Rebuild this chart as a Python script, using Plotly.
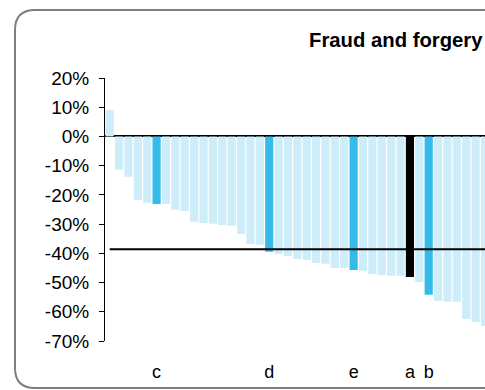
import plotly.graph_objects as go

# Change per unit (%), sorted from highest to lowest
values = [9.0, -11.4, -13.8, -21.7, -22.7, -23.1, -23.1, -25.1, -25.5, -29.2,
          -29.6, -29.9, -30.3, -30.6, -33.4, -36.8, -37.1, -39.5, -40.2, -40.9,
          -41.9, -42.3, -43.3, -43.6, -45.0, -45.0, -45.7, -46.0, -47.1, -47.4,
          -47.7, -47.7, -48.1, -49.8, -54.2, -56.3, -56.6, -56.6, -62.5, -63.5,
          -64.9]
# Named units (all others unlabelled)
labels = ["", "", "", "", "", "c", "", "", "", "",
          "", "", "", "", "", "", "", "d", "", "",
          "", "", "", "", "", "", "e", "", "", "",
          "", "", "a", "", "b", "", "", "", "", "",
          ""]
average = -38.6
y_ticks = [20, 10, 0, -10, -20, -30, -40, -50, -60, -70]
title = "Fraud and forgery"

FONT = "Liberation Sans, Arial, sans-serif"
LIGHT = "#CCEDF9"
BLUE = "#35BBE9"
DARK = "#000000"

x = list(range(len(values)))
colors = []
for lab in labels:
    if lab == "a":
        colors.append(DARK)
    elif lab:
        colors.append(BLUE)
    else:
        colors.append(LIGHT)

fig = go.Figure()
fig.add_trace(go.Bar(x=x, y=values, marker=dict(color=colors, line=dict(width=0)),
                     hoverinfo="skip"))
fig.add_trace(go.Scatter(x=x, y=[average] * len(x), mode="lines",
                         line=dict(color="black", width=2), hoverinfo="skip"))

# plot area geometry in pixels (used for the frame drawn around the chart)
W, H = 485, 390
ml, mr, mt, mb = 105, 0, 78, 49
pw, ph = W - ml - mr, H - mt - mb


def px(xp):
    return (xp - ml) / pw


def py(yp):
    return (H - mb - yp) / ph


# rounded frame, open on the right where it runs past the page
L, T, B, R = 15, 10, 388, 560
r = 20
path = (f"M {px(R)},{py(T)} L {px(L + r)},{py(T)} "
        f"Q {px(L)},{py(T)} {px(L)},{py(T + r)} "
        f"L {px(L)},{py(B - r)} "
        f"Q {px(L)},{py(B)} {px(L + r)},{py(B)} "
        f"L {px(R)},{py(B)}")

fig.update_layout(
    width=W, height=H,
    margin=dict(l=ml, r=mr, t=mt, b=mb, pad=0),
    paper_bgcolor="white", plot_bgcolor="white",
    showlegend=False,
    bargap=0.13,
    font=dict(family=FONT, color="black", size=18),
    shapes=[dict(type="path", path=path, xref="paper", yref="paper",
                 line=dict(color="#7f7f7f", width=2), layer="below")],
    annotations=[dict(text=f"<b>{title}</b>", xref="paper", yref="paper",
                      x=px(307), y=py(40), xanchor="left", yanchor="middle",
                      showarrow=False, font=dict(size=20.3, family=FONT))],
)
fig.update_xaxes(
    range=[-0.5, 40.0],
    tickmode="array",
    tickvals=[i for i, lab in enumerate(labels) if lab],
    ticktext=[lab for lab in labels if lab],
    ticks="", showline=False, showgrid=False, zeroline=False,
    ticklabelstandoff=18,
    tickfont=dict(size=18),
)
fig.update_yaxes(
    range=[-70, 20],
    tickmode="array",
    tickvals=y_ticks,
    ticktext=[f"{v}%" for v in y_ticks],
    ticks="outside", ticklen=5, tickcolor="black", tickwidth=1,
    showline=True, linecolor="black", linewidth=1,
    showgrid=False,
    zeroline=True, zerolinecolor="black", zerolinewidth=1.5,
    ticklabelstandoff=6,
    tickfont=dict(size=19),
)

fig.write_html("out.html")
